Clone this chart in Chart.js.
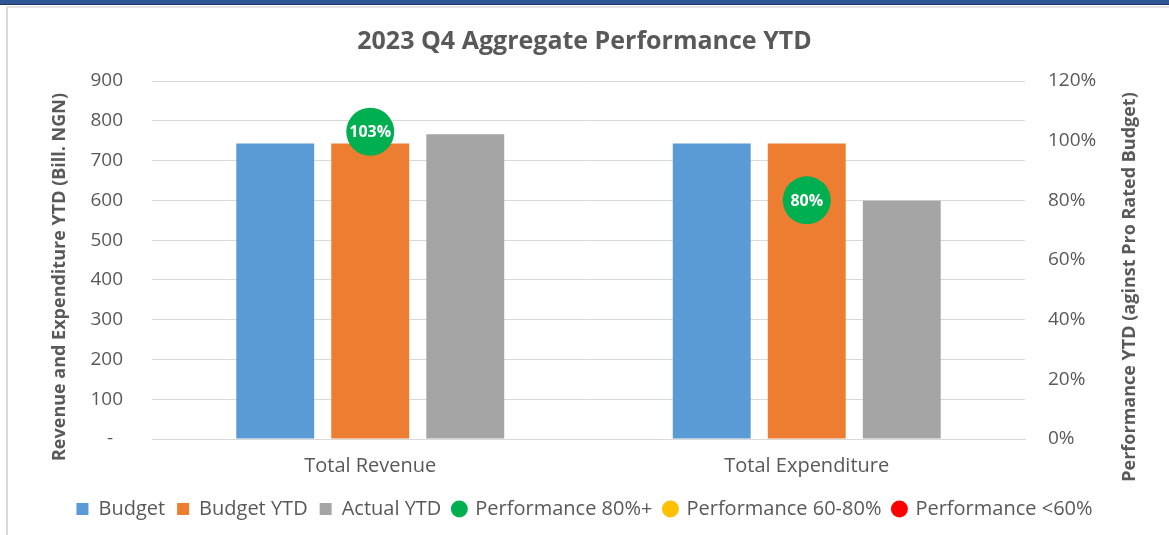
<!DOCTYPE html>
<html>
<head>
<meta charset="utf-8">
<script src="https://cdn.jsdelivr.net/npm/chart.js@4"></script>
<style>
  html, body { margin: 0; padding: 0; background: #fff; overflow: hidden; }
  #band { position: absolute; left: 0; top: 0; width: 1169px; height: 4px; background: #2F5597; border-bottom: 1px solid #1F3864; }
  #frame { position: absolute; left: 6px; top: 6px; width: 1161px; height: 529px; border-left: 2px solid #D9D9D9; border-top: 2px solid #E3E3E3; }
  #chart { position: absolute; left: 0; top: 0; }
</style>
</head>
<body>
<div id="band"></div>
<div id="frame"></div>
<canvas id="chart" width="1169" height="535"></canvas>
<script>
/// 2023 Q4 aggregate performance chart

const categories = ["Total Revenue", "Total Expenditure"];
const budget = [743, 743]; // Bill. NGN
const budgetYtd = [743, 743];
const actualYtd = [766, 599];
const perf80plus = [103, 80]; // % against pro rated budget
const perf60to80 = [null, null];
const perfBelow60 = [null, null];

const leftTitle = "Revenue and Expenditure YTD (Bill. NGN)";
const rightTitle = "Performance YTD (aginst Pro Rated Budget)";

const GREY = "#595959";
Chart.defaults.font.family = "'Open Sans', sans-serif";
Chart.defaults.color = GREY;

// axis titles (right one reads bottom-to-top like Excel) + bubble labels
const extras = {
  id: "extras",
  afterDatasetsDraw(chart) {
    const ctx = chart.ctx;
    ctx.save();
    ctx.fillStyle = "#fff";
    ctx.font = "bold 16px 'Open Sans', sans-serif";
    ctx.textAlign = "center";
    ctx.textBaseline = "middle";
    chart.data.datasets.forEach((ds, i) => {
      if (!ds.isPerf) return;
      chart.getDatasetMeta(i).data.forEach((pt, j) => {
        const v = ds.data[j];
        if (v == null) return;
        ctx.fillText(v + "%", pt.x, pt.y + 1);
      });
    });
    ctx.restore();
  },
  afterDraw(chart) {
    const ctx = chart.ctx;
    const axisTitle = (text, x, y) => {
      ctx.save();
      ctx.fillStyle = GREY;
      ctx.font = "bold 18px 'Open Sans', sans-serif";
      ctx.textAlign = "center";
      ctx.textBaseline = "middle";
      ctx.translate(x, y);
      ctx.rotate(-Math.PI / 2);
      ctx.fillText(text, 0, 0);
      ctx.restore();
    };
    axisTitle(leftTitle, 60, 277);
    axisTitle(rightTitle, 1130, 287);
  },
};

const barSet = (label, data, color) => ({
  type: "bar",
  label: label,
  data: data,
  backgroundColor: color,
  borderWidth: 0,
  pointStyle: "rect",
  yAxisID: "y",
  order: 1,
  categoryPercentage: 0.653,
  barPercentage: 0.82,
});

const perfSet = (label, data, color) => ({
  type: "line",
  label: label,
  data: data,
  isPerf: true,
  showLine: false,
  backgroundColor: color,
  borderColor: color,
  borderWidth: 0,
  pointStyle: "circle",
  pointRadius: 24,
  pointHoverRadius: 24,
  yAxisID: "y1",
  order: 0,
  clip: false,
});

const chartConfig = {
  data: {
    labels: categories,
    datasets: [
      barSet("Budget", budget, "#5B9BD5"),
      barSet("Budget YTD", budgetYtd, "#ED7D31"),
      barSet("Actual YTD", actualYtd, "#A5A5A5"),
      perfSet("Performance 80%+", perf80plus, "#00B050"),
      perfSet("Performance 60-80%", perf60to80, "#FFC000"),
      perfSet("Performance <60%", perfBelow60, "#FF0000"),
    ],
  },
  options: {
    responsive: false,
    animation: false,
    events: [],
    layout: { padding: { left: 0, right: 0, top: 0, bottom: 6 } },
    plugins: {
      tooltip: { enabled: false },
      title: {
        display: true,
        text: "2023 Q4 Aggregate Performance YTD",
        color: GREY,
        font: { size: 25, weight: "bold" },
        padding: { top: 27, bottom: 24 },
      },
      legend: {
        position: "bottom",
        labels: {
          usePointStyle: true,
          boxWidth: 12,
          boxHeight: 12,
          padding: 12,
          color: GREY,
          font: { size: 20 },
          sort: (a, b) => a.datasetIndex - b.datasetIndex,
        },
      },
    },
    scales: {
      x: {
        grid: { display: false },
        border: { color: "#D9D9D9" },
        ticks: { color: GREY, font: { size: 20 }, padding: 7 },
        afterFit: (s) => { s.height = 48; },
      },
      y: {
        position: "left",
        min: 0,
        max: 900,
        grid: { color: "#D9D9D9", drawTicks: false },
        border: { display: false },
        ticks: {
          stepSize: 100,
          padding: 29,
          color: GREY,
          font: { size: 19 },
          callback: (v) => (v === 0 ? "-  " : v),
        },
        afterFit: (s) => { s.width = 152; },
      },
      y1: {
        position: "right",
        min: 0,
        max: 120,
        grid: { display: false, drawTicks: false },
        border: { display: false },
        ticks: {
          stepSize: 20,
          padding: 23,
          color: GREY,
          font: { size: 19 },
          callback: (v) => v + "%",
        },
        afterFit: (s) => { s.width = 144; },
      },
    },
  },
  plugins: [extras],
};

const dataChart = new Chart("chart", chartConfig);
</script>
</body>
</html>
